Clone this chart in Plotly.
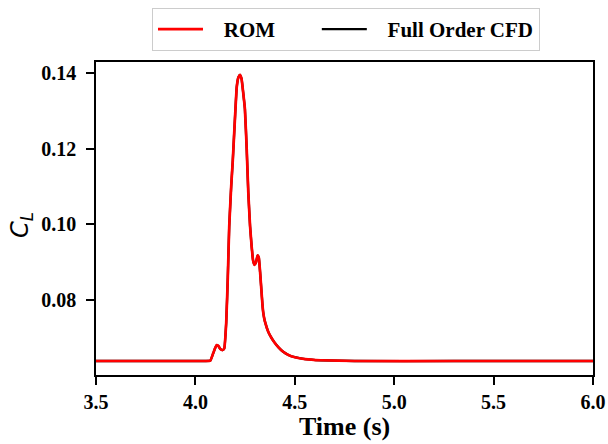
import plotly.graph_objects as go

# Lift coefficient history (time in s, C_L)
time_s = [3.5, 4.0, 4.05, 4.075, 4.09, 4.1, 4.107, 4.115, 4.125, 4.137, 4.145,
          4.155, 4.163, 4.17, 4.18, 4.188, 4.2, 4.208, 4.216, 4.224, 4.232,
          4.24, 4.249, 4.258, 4.266, 4.275, 4.283, 4.29, 4.297, 4.305, 4.313,
          4.319, 4.326, 4.332, 4.337, 4.341, 4.346, 4.351, 4.365, 4.376,
          4.395, 4.418, 4.44, 4.468, 4.5, 4.552, 4.63, 4.8, 5.3, 6.0]
cl_rom = [0.0639, 0.0639, 0.0639, 0.0640, 0.0660, 0.0674, 0.0681, 0.0679,
          0.0671, 0.0668, 0.0672, 0.0740, 0.0860, 0.0993, 0.1100, 0.1168,
          0.1290, 0.1363, 0.1388, 0.1395, 0.1385, 0.1350, 0.1305, 0.1200,
          0.1085, 0.0995, 0.0941, 0.0905, 0.0893, 0.0900, 0.0918, 0.0912,
          0.0870, 0.0826, 0.0790, 0.0768, 0.0752, 0.0741, 0.0718, 0.0706,
          0.0690, 0.0675, 0.0664, 0.0655, 0.0649, 0.0644, 0.0641, 0.0639,
          0.0639, 0.0639]
cl_cfd = list(cl_rom)

x_ticks = [3.5, 4.0, 4.5, 5.0, 5.5, 6.0]
y_ticks = [0.08, 0.10, 0.12, 0.14]

serif = "Liberation Serif"
NB = "\u00a0"

fig = go.Figure()
# CFD reference curve sits underneath the ROM prediction
fig.add_trace(go.Scatter(
    x=time_s, y=cl_cfd, mode="lines", name=NB * 3 + "Full Order CFD",
    line=dict(color="black", width=2.3, shape="spline", smoothing=0.35),
    legendrank=2,
))
fig.add_trace(go.Scatter(
    x=time_s, y=cl_rom, mode="lines", name=NB * 3 + "ROM" + NB * 7,
    line=dict(color="#ff0000", width=2.7, shape="spline", smoothing=0.35),
    legendrank=1,
))

axis_common = dict(
    showline=True, linecolor="black", linewidth=1.5, mirror=True,
    ticks="outside", ticklen=8, tickwidth=1.5, tickcolor="black",
    showgrid=False, zeroline=False, automargin=False,
    tickfont=dict(family=serif, size=20, color="black", weight="bold"),
)

fig.update_layout(
    width=608, height=444,
    margin=dict(l=96, r=15, t=62, b=69, autoexpand=False),
    paper_bgcolor="white", plot_bgcolor="white",
    font=dict(family=serif, color="black"),
    xaxis=dict(
        range=[3.5, 6.0], tickvals=x_ticks, tickformat=".1f",
        **axis_common,
    ),
    yaxis=dict(
        range=[0.0602, 0.1429], tickvals=y_ticks, tickformat=".2f",
        ticklabelstandoff=6,
        **axis_common,
    ),
    legend=dict(
        orientation="h", x=0.503, xanchor="center",
        yref="container", y=1 - 8 / 444, yanchor="top",
        bordercolor="#cccccc", borderwidth=1, bgcolor="white",
        font=dict(family=serif, size=21, color="black", weight="bold"),
        itemwidth=45, tracegroupgap=0,
    ),
    annotations=[
        dict(text="<b>Time (s)</b>", xref="paper", yref="paper",
             x=0.5, y=-51 / 313, xanchor="center", yanchor="middle",
             showarrow=False, font=dict(family=serif, size=26, color="black")),
        dict(text="<i>C</i><sub><i>L</i></sub>", xref="paper", yref="paper",
             x=-75 / 497, y=150 / 313, xanchor="center", yanchor="middle",
             textangle=-90, showarrow=False,
             font=dict(family="DejaVu Sans", size=24, color="black")),
    ],
    showlegend=True,
)

fig.write_html("out.html")
